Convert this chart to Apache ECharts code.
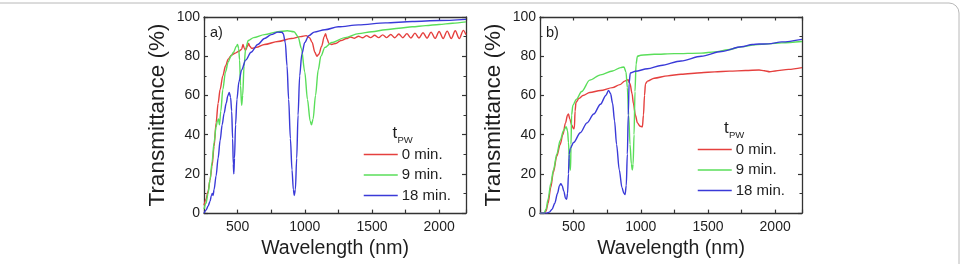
<!DOCTYPE html>
<html><head><meta charset="utf-8">
<script src="https://cdn.jsdelivr.net/npm/echarts@6/dist/echarts.min.js"></script>
<style>html,body{margin:0;padding:0;background:#fff}#c{width:963px;height:264px}</style>
</head><body><div id="c"></div>
<script>
// Series names (legend)
const seriesNames = ['0 min.', '9 min.', '18 min.'];
const panelLabels = ['a)', 'b)'];
const xTitle = 'Wavelength (nm)';
const yTitle = 'Transmittance (%)';

// Panel a) [wavelength nm, transmittance %]
const a0 = [[250,4],[265,7],[280,11],[295,17],[310,24],[325,34],[340,46],[355,56],[370,63],[390,70],[410,75],[430,78.5],[455,80.5],[480,81.5],[510,82.5],[530,83.5],[540,86],[550,84],[560,83],[572,85],[582,86.5],[592,85],[605,84],[640,84.5],[700,86],[800,87.5],[900,89],[970,90],[1010,90.5],[1035,89.5],[1055,87],[1075,82],[1090,80],[1105,81],[1125,85],[1145,90],[1155,91.5],[1165,89],[1180,86.5],[1200,86],[1230,86.5],[1270,88],[1310,89],[1340,89.8],[1370,89.2],[1400,90.2],[1430,89.4],[1460,90.5],[1490,89.5],[1520,90.7],[1550,89.5],[1580,90.9],[1610,89.5],[1640,91.1],[1670,89.4],[1700,91.3],[1730,89.4],[1760,91.5],[1790,89.3],[1820,91.8],[1850,89.3],[1880,92],[1910,89.2],[1940,92.3],[1970,89.1],[2000,92.6],[2030,89],[2060,92.8],[2090,89],[2120,93],[2150,89],[2180,93.2],[2200,91]];
const a9 = [[250,2],[265,5],[280,10],[295,17],[310,26],[325,36],[340,44],[350,47],[358,48],[365,45],[375,52],[390,63],[410,72],[430,77],[450,80],[470,82],[490,85],[500,86],[508,84],[515,78],[522,65],[530,55],[538,60],[548,75],[560,84],[580,88],[620,89.5],[700,91],[800,92.5],[870,93],[920,92.5],[950,90],[975,84],[1000,72],[1020,58],[1040,47],[1050,45],[1062,48],[1080,60],[1100,73],[1120,80],[1150,84.5],[1200,87],[1300,89.5],[1400,91.5],[1500,92.5],[1600,93.5],[1700,94.3],[1800,95],[1900,95.6],[2000,96.2],[2100,96.8],[2200,97.5]];
const a18 = [[250,0],[265,1.5],[280,3.5],[295,6],[305,9],[312,10],[318,9],[325,12],[340,19],[355,28],[370,37],[385,45],[400,51],[415,56],[428,60],[438,61.5],[448,59],[456,52],[463,38],[468,25],[472,20],[477,28],[485,45],[495,58],[510,67],[530,73],[560,78],[600,82],[650,86],[700,89],[750,91],[800,92.3],[830,92.2],[840,91.5],[855,87],[868,75],[880,58],[893,38],[905,22],[915,12],[922,9],[930,12],[940,28],[950,50],[962,70],[978,81],[1000,87],[1030,90.5],[1070,92.3],[1150,93.5],[1250,95],[1400,96],[1600,97],[1800,97.7],[2000,98.2],[2200,98.8]];

// Panel b)
const b0 = [[250,0],[280,0],[295,1],[310,5],[330,13],[350,21],[375,29],[400,35],[420,40],[440,46],[455,50],[462,50.5],[472,48],[485,45],[500,43],[506,43.5],[511,52],[518,56.5],[540,58.5],[570,60],[620,61.5],[700,62.5],[790,64],[845,65.5],[880,67.3],[905,68],[920,66],[935,61],[945,56],[960,50],[975,46],[995,44.3],[1012,44],[1020,50],[1028,60],[1035,66],[1050,67.3],[1100,68.8],[1200,70],[1300,70.8],[1450,71.6],[1550,72],[1660,72.4],[1780,72.7],[1880,73],[1920,72.6],[1960,72.1],[2000,72.5],[2100,73.3],[2200,74.2]];
const b9 = [[250,0],[280,0],[295,2],[310,7],[330,15],[350,22],[375,30],[400,37],[425,42],[445,44],[455,42],[462,36],[468,28],[473,22.5],[477,22],[481,35],[485,50],[495,55],[520,58],[560,62],[620,67.8],[700,70.5],[790,72.5],[850,74.2],[875,74.5],[890,72],[900,64],[910,50],[920,35],[930,25],[937,22],[943,25],[950,40],[957,62],[965,76],[975,80],[1000,80.5],[1100,81],[1250,81.3],[1450,81.6],[1550,82.2],[1650,83.3],[1750,84.8],[1850,85.8],[1950,86.3],[2050,86.8],[2200,87.5]];
const b18 = [[250,0],[300,0],[320,0.5],[340,2],[360,5],[380,10],[395,14],[405,15],[415,14],[428,11],[440,7.5],[448,7],[455,10],[462,20],[467,30],[475,33],[500,36],[550,41],[600,46],[650,50.5],[700,55.5],[740,60],[760,62.5],[775,61],[790,56],[805,47],[820,35],[840,22],[860,13],[875,10],[883,9.5],[892,14],[900,30],[907,50],[913,66],[922,71.5],[960,72.3],[1050,73.6],[1150,75.3],[1300,77.6],[1450,80],[1600,82.4],[1750,84.8],[1830,86],[1880,86.2],[1950,86.3],[2050,87.3],[2200,88.6]];

const xMin = 250, xMax = 2200, xStep = 250, xLabelStep = 500;
const yMin = 0, yMax = 100, yStep = 20;

const colors = ['#e5403e', '#5ade5a', '#3a3ad8'];
const FONT = 'Liberation Sans, Arial, sans-serif';
const axisColor = '#333';
const textColor = '#1e1e1e';

const chart = echarts.init(document.getElementById('c'), null, {renderer: 'canvas'});

const grids = [
  {left: 204, top: 17, width: 262, height: 197.5},
  {left: 540, top: 17, width: 262, height: 197.5}
];

const xAxes = [], yAxes = [];
grids.forEach((g, i) => {
  const base = {
    type: 'value', gridIndex: i, min: xMin, max: xMax, interval: xStep,
    axisLine: {show: true, onZero: false, lineStyle: {color: axisColor, width: 1.3}},
    axisTick: {show: true, inside: true, length: 3.5, lineStyle: {color: axisColor, width: 1.2}},
    splitLine: {show: false}
  };
  xAxes.push(Object.assign({}, base, {
    position: 'bottom',
    axisLabel: {show: true, margin: 7, fontSize: 14, color: textColor, fontFamily: FONT,
      formatter: v => (v % xLabelStep === 0 ? String(v) : '')},
    name: xTitle, nameLocation: 'middle', nameGap: 22,
    nameTextStyle: {fontSize: 19.5, color: textColor, fontFamily: FONT}
  }));
  xAxes.push(Object.assign({}, base, {position: 'top', axisLabel: {show: false}}));
  const ybase = {
    type: 'value', gridIndex: i, min: yMin, max: yMax, interval: yStep,
    axisLine: {show: true, onZero: false, lineStyle: {color: axisColor, width: 1.3}},
    axisTick: {show: true, inside: true, length: 4, lineStyle: {color: axisColor, width: 1.2}},
    minorTick: {show: true, splitNumber: 2, length: 2.5, lineStyle: {color: axisColor, width: 1}},
    splitLine: {show: false}, minorSplitLine: {show: false}
  };
  yAxes.push(Object.assign({}, ybase, {
    position: 'left',
    axisLabel: {show: true, margin: 4, fontSize: 14, color: textColor, fontFamily: FONT},
    name: yTitle, nameLocation: 'middle', nameGap: 35, nameRotate: 90,
    nameTextStyle: {fontSize: 22.5, color: textColor, fontFamily: FONT}
  }));
  yAxes.push(Object.assign({}, ybase, {position: 'right', axisLabel: {show: false}}));
});

const panels = [[a0, a9, a18], [b0, b9, b18]];
const series = [];
panels.forEach((sets, p) => {
  sets.forEach((d, k) => {
    series.push({
      type: 'line', name: seriesNames[k], xAxisIndex: p * 2, yAxisIndex: p * 2,
      data: d, showSymbol: false, symbol: 'none', smooth: 0.3, smoothMonotone: 'x',
      lineStyle: {color: colors[k], width: 1.4}, itemStyle: {color: colors[k]},
      z: 3 + k, silent: true
    });
  });
});

const legendBase = {
  orient: 'vertical', data: seriesNames, itemWidth: 34, itemHeight: 14, itemGap: 5.5,
  padding: 0, selectedMode: false,
  itemStyle: {color: 'rgba(0,0,0,0)', borderColor: 'rgba(0,0,0,0)', borderWidth: 0, opacity: 0},
  lineStyle: {width: 1.5},
  textStyle: {fontSize: 15, color: textColor, fontFamily: FONT, padding: [0, 0, 0, -1]}
};

const graphicTexts = [];
const tpw = [{x: 392.5, y: 125, sx: 397.5, sy: 135}, {x: 724, y: 120, sx: 729, sy: 130}];
tpw.forEach(t => {
  graphicTexts.push({type: 'text', left: t.x, top: t.y, style: {text: 't', fontSize: 17, fill: textColor, fontFamily: FONT}, z: 10});
  graphicTexts.push({type: 'text', left: t.sx, top: t.sy, style: {text: 'PW', fontSize: 9.5, fill: textColor, fontFamily: FONT}, z: 10});
});
graphicTexts.push({type: 'text', left: 210, top: 25, style: {text: panelLabels[0], fontSize: 14.5, fill: textColor, fontFamily: FONT}, z: 10});
graphicTexts.push({type: 'text', left: 546, top: 25, style: {text: panelLabels[1], fontSize: 14.5, fill: textColor, fontFamily: FONT}, z: 10});
graphicTexts.push({type: 'rect', left: -20, top: 0.5, shape: {x: 0, y: 0, width: 976.5, height: 300, r: 10},
  style: {fill: 'none', stroke: '#b8b8b8', lineWidth: 1}, z: 0});

chart.setOption({
  animation: false,
  backgroundColor: '#fff',
  grid: grids,
  xAxis: xAxes,
  yAxis: yAxes,
  legend: [
    Object.assign({}, legendBase, {left: 363, top: 147}),
    Object.assign({}, legendBase, {left: 697, top: 142})
  ],
  graphic: graphicTexts,
  series: series
});
</script></body></html>
